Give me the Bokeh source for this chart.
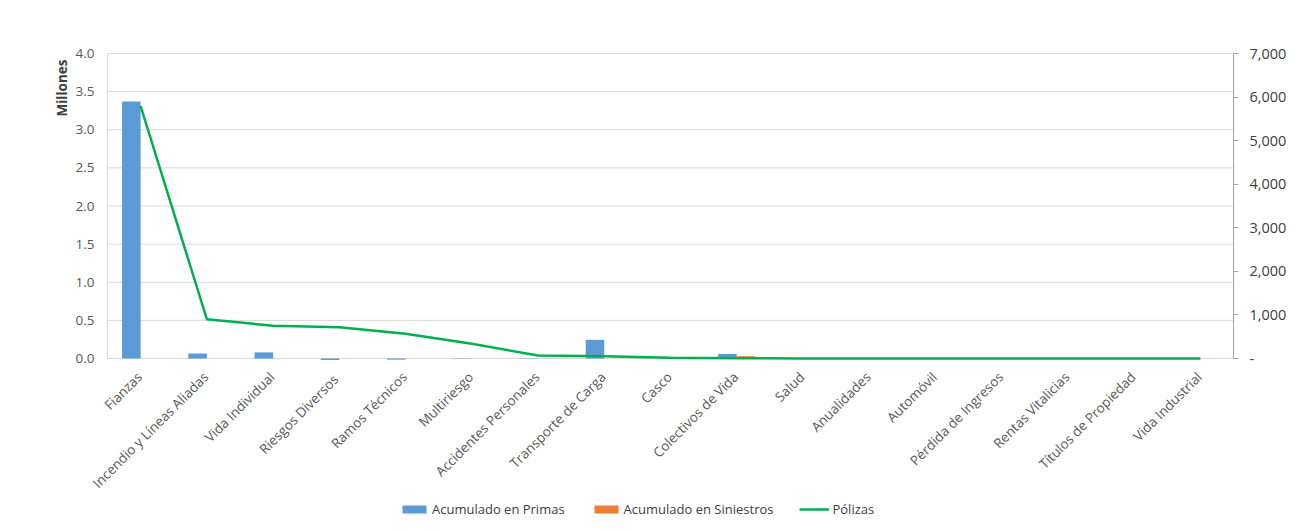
from bokeh.plotting import figure
from bokeh.models import (ColumnDataSource, Range1d, FactorRange, LinearAxis,
                          FixedTicker, NumeralTickFormatter, Legend, LegendItem,
                          LabelSet)
from bokeh.transform import dodge
from bokeh.core.properties import value
from bokeh.embed import file_html
from bokeh.resources import INLINE
import math

categories = ["Fianzas", "Incendio y Líneas Aliadas", "Vida Individual",
              "Riesgos  Diversos", "Ramos Técnicos", "Multiriesgo",
              "Accidentes Personales", "Transporte de Carga", "Casco",
              "Colectivos de Vida", "Salud", "Anualidades", "Automóvil",
              "Pérdida de Ingresos", "Rentas Vitalicias", "Títulos de Propiedad",
              "Vida Industrial"]
primas = [3.37, 0.065, 0.08, -0.02, -0.015, 0.004, 0.003, 0.245, 0.0, 0.06,
          0.0, 0.0, 0.0, 0.0, 0.0, 0.0, 0.0]
siniestros = [0.0, 0.0, 0.0, 0.0, 0.0, 0.0, 0.0, 0.0, 0.0, 0.03,
              0.0, 0.0, 0.0, 0.0, 0.0, 0.0, 0.0]
polizas = [5790, 902, 750, 718, 567, 337, 69, 53, 15, 5,
           2, 1, 1, 1, 0, 0, 0]
left_ticks = [0.0, 0.5, 1.0, 1.5, 2.0, 2.5, 3.0, 3.5, 4.0]
left_tick_labels = ["0.0", "0.5", "1.0", "1.5", "2.0", "2.5", "3.0", "3.5", "4.0"]
right_ticks = [0, 1000, 2000, 3000, 4000, 5000, 6000, 7000]
LEFT_MAX = 4.0
RIGHT_MAX = 7000

# ---- layout (pixels) ----
W, H = 1296, 523
TOP, LEFT, RIGHT = 53, 107, 63       # plot area: x 107..1233, y 53..358
EXTRA_TOP = 12                       # frame room above the top grid line
PLOT_W = W - LEFT - RIGHT            # width covered by the categories
PLOT_H = 305                         # height of the 0..max value area
BELOW = H - TOP - PLOT_H             # room under the zero line
FRAME_W = W - RIGHT                  # frame starts at the left page edge
N = len(categories)
CW = PLOT_W / N                      # px per category
PAD = (FRAME_W / CW - N) / 2         # symmetric range padding (categories)
D = LEFT / CW - PAD                  # shift that puts the categories in place
lo = BELOW / PLOT_H
hi = 1 + EXTRA_TOP / PLOT_H

FONT = "Open Sans"
src = ColumnDataSource(dict(cat=categories, primas=primas,
                            siniestros=siniestros, polizas=polizas))

xr = FactorRange(factors=categories, range_padding=2 * PAD / N,
                 range_padding_units="percent")
p = figure(x_range=xr, y_range=Range1d(-LEFT_MAX * lo, LEFT_MAX * hi),
           width=W, height=H, output_backend="svg", toolbar_location=None,
           min_border_left=0, min_border_right=RIGHT,
           min_border_top=TOP - EXTRA_TOP, min_border_bottom=0)
p.outline_line_color = None
p.extra_y_ranges = {"pol": Range1d(-RIGHT_MAX * lo, RIGHT_MAX * hi)}
p.xaxis.visible = False
p.yaxis.visible = False
p.xgrid.visible = False
p.ygrid.visible = False

# ---- grid lines and left axis line (span the category area only) ----
grid_src = ColumnDataSource(dict(a0=[categories[0]] * len(left_ticks),
                                 a1=[categories[-1]] * len(left_ticks),
                                 y=left_ticks, text=left_tick_labels))
p.segment(x0=dodge("a0", -0.5 + D, range=xr), x1=dodge("a1", 0.5 + D, range=xr),
          y0="y", y1="y", source=grid_src, line_color="#D9D9D9", line_width=1)
axis_src = ColumnDataSource(dict(a0=[categories[0]], y0=[0.0], y1=[LEFT_MAX],
                                 text=["Millones"]))
p.segment(x0=dodge("a0", -0.5 + D, range=xr), x1=dodge("a0", -0.5 + D, range=xr),
          y0="y0", y1="y1", source=axis_src, line_color="#D9D9D9", line_width=1)

# ---- data ----
b1 = p.vbar(x=dodge("cat", -0.14 + D, range=xr), top="primas", width=0.28,
            source=src, fill_color="#5B9BD5", line_color=None)
b2 = p.vbar(x=dodge("cat", 0.14 + D, range=xr), top="siniestros", width=0.28,
            source=src, fill_color="#ED7D31", line_color=None)
ln = p.line(x=dodge("cat", D, range=xr), y="polizas", source=src,
            y_range_name="pol", line_color="#00B050", line_width=2.5)

# ---- left tick labels and axis title ----
p.add_layout(LabelSet(x=dodge("a0", -0.5 + D, range=xr), y="y", text="text",
                      source=grid_src, x_offset=-13, text_align="right",
                      text_baseline="middle", text_font=value(FONT),
                      text_font_size="13.5px", text_color="#595959"))
p.add_layout(LabelSet(x=dodge("a0", -0.5 + D, range=xr), y="y1", text="text",
                      source=axis_src, x_offset=-46, y_offset=-6,
                      angle=math.pi / 2, text_align="right",
                      text_baseline="middle", text_font=value(FONT),
                      text_font_size="13.5px", text_font_style="bold",
                      text_color="#404040"))

# ---- category labels ----
p.add_layout(LabelSet(x=dodge("cat", D, range=xr), y=0, text="cat", source=src,
                      angle=math.pi / 4, text_align="right",
                      text_baseline="middle", x_offset=-1, y_offset=-16,
                      text_font=value(FONT), text_font_size="13.5px",
                      text_color="#595959"))

# ---- right axis ----
ra = LinearAxis(y_range_name="pol", ticker=FixedTicker(ticks=right_ticks),
                formatter=NumeralTickFormatter(format="0,0"))
ra.bounds = (0, RIGHT_MAX)
ra.major_label_overrides = {0: "-"}
ra.major_tick_line_color = "#A6A6A6"
ra.major_tick_in = 0
ra.major_tick_out = 5
ra.minor_tick_line_color = None
ra.axis_line_color = "#A6A6A6"
ra.major_label_text_font = FONT
ra.major_label_text_font_size = "14.5px"
ra.major_label_text_color = "#404040"
ra.major_label_standoff = 11
p.add_layout(ra, "right")

# ---- legend ----
legend = Legend(items=[LegendItem(label="Acumulado en Primas", renderers=[b1]),
                       LegendItem(label="Acumulado en Siniestros", renderers=[b2]),
                       LegendItem(label="Pólizas", renderers=[ln])],
                orientation="horizontal", location=(399, 4),
                label_text_font=FONT, label_text_font_size="13px",
                label_text_color="#404040", glyph_width=30, glyph_height=10,
                label_height=20, label_standoff=3, spacing=26,
                border_line_color=None, background_fill_alpha=0,
                margin=0, padding=0)
p.add_layout(legend, "center")

open("out.html", "w").write(file_html(p, INLINE))
